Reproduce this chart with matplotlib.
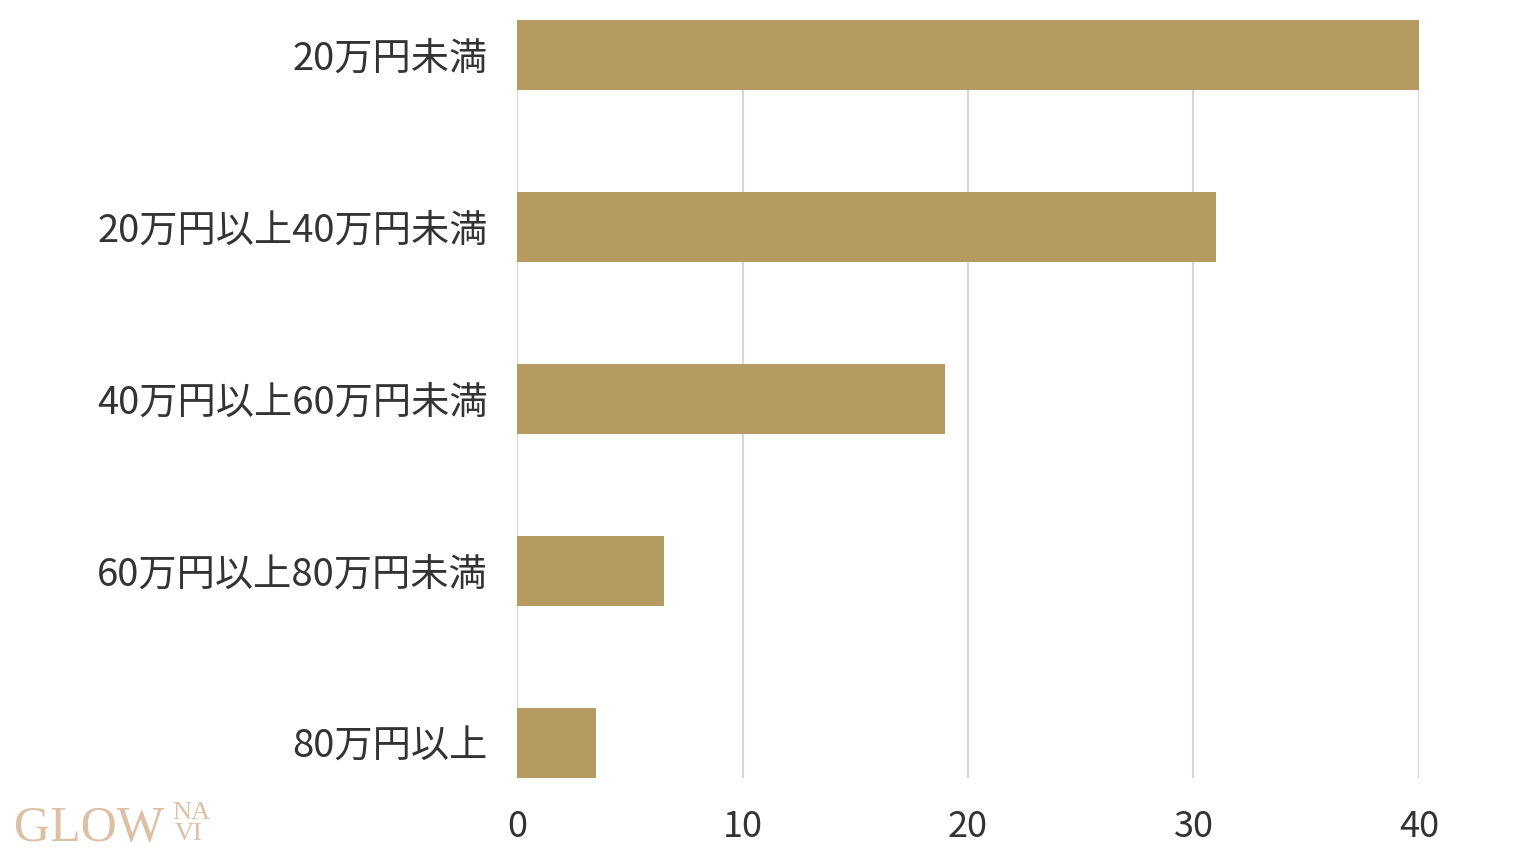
import matplotlib
matplotlib.use("Agg")
import matplotlib.pyplot as plt

plt.rcParams['font.family'] = ['Noto Sans CJK JP', 'DejaVu Sans']

# data
categories = ["20万円未満", "20万円以上40万円未満", "40万円以上60万円未満",
              "60万円以上80万円未満", "80万円以上"]
values = [40, 31, 19, 6.5, 3.5]
x_ticks = [0, 10, 20, 30, 40]

bar_color = "#b59b61"
bar_h = 0.41


def plot_bars():
    fig = plt.figure(figsize=(15.36, 8.64), dpi=100)
    ax = fig.add_axes([0.3366, 0.0995, 0.5872, 0.8775])

    pos = list(range(len(categories)))
    ax.barh(pos, values, height=bar_h, color=bar_color, zorder=3)

    ax.set_ylim(len(categories) - 1 + bar_h / 2, -bar_h / 2)
    ax.set_xlim(0, 40)
    ax.set_yticks(pos)
    ax.set_yticklabels(categories, fontsize=27.5, color="#333333")
    ax.set_xticks(x_ticks)
    ax.set_xticklabels([str(t) for t in x_ticks], fontsize=26, color="#333333")
    ax.tick_params(axis="both", length=0)
    ax.tick_params(axis="y", pad=21)
    ax.tick_params(axis="x", pad=22)

    ax.grid(axis="x", color="#d6d6d6", linewidth=1.5, zorder=0)
    for s in ax.spines.values():
        s.set_visible(False)

    # logo
    fig.text(0.009, 0.027, "GLOW", fontsize=36, family="Liberation Serif",
             color="#dcc0a6")
    fig.text(0.112, 0.052, "NA", fontsize=19, family="Liberation Serif",
             color="#dcc0a6")
    fig.text(0.114, 0.028, "VI", fontsize=19, family="Liberation Serif",
             color="#dcc0a6")

    fig.savefig("out.png", dpi=100, facecolor="white")


if __name__ == "__main__":
    plot_bars()
